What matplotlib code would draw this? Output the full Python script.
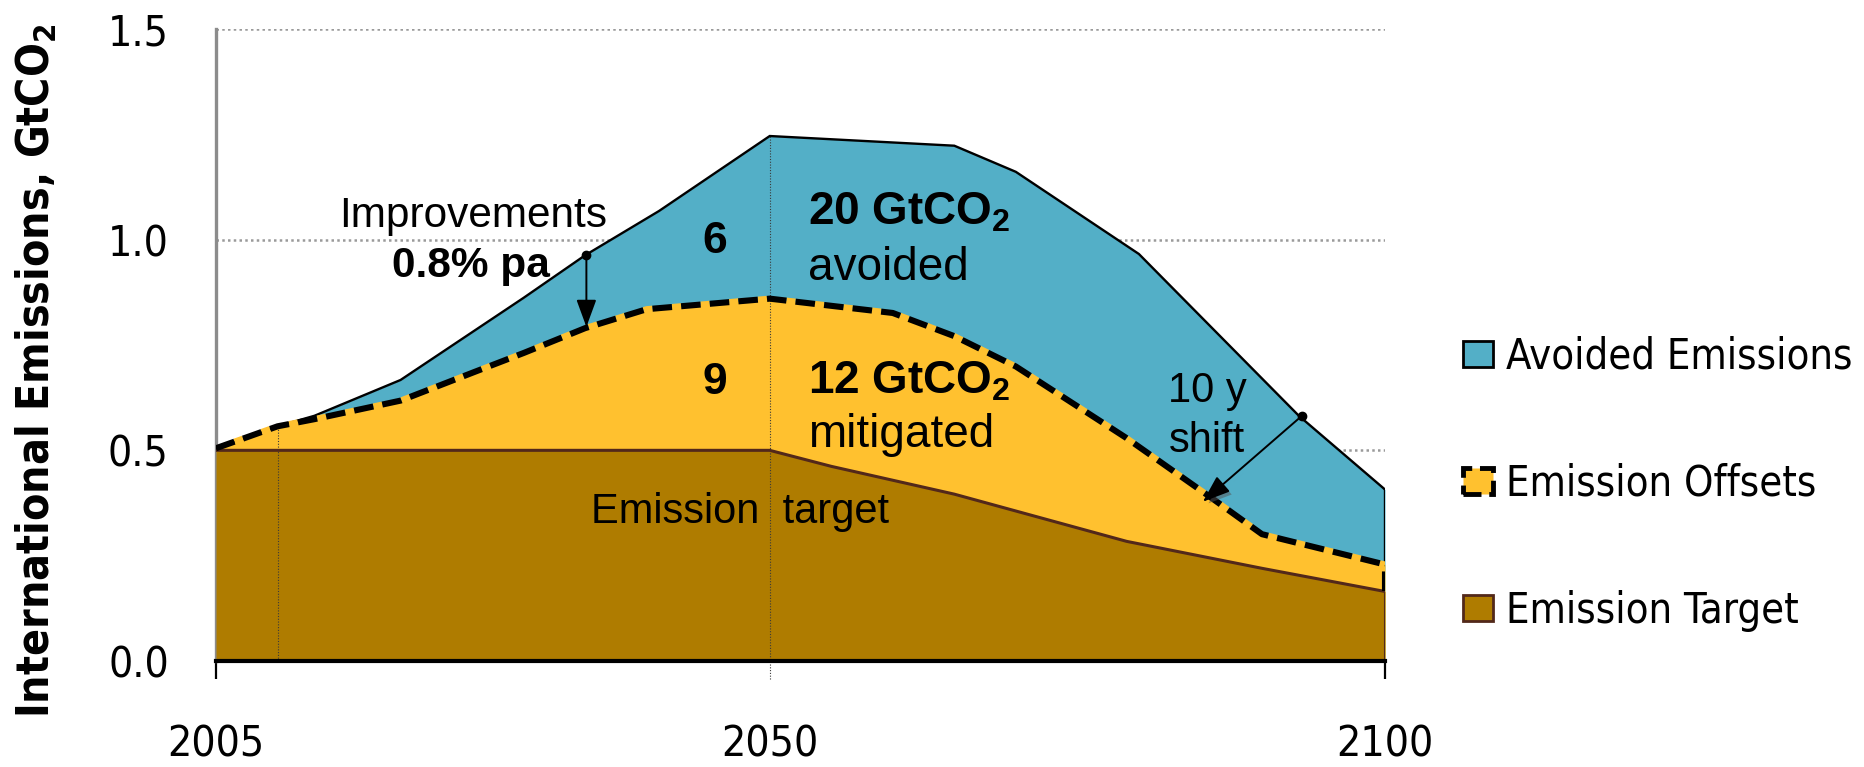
import os
import matplotlib
matplotlib.use("Agg")
import matplotlib.pyplot as plt
import matplotlib.patheffects as pe
from matplotlib import font_manager as fm
from matplotlib.font_manager import FontProperties
from matplotlib.patches import Patch

REGULAR = ["Liberation Sans", "DejaVu Sans"]
plt.rcParams["font.family"] = REGULAR

# ---- data -------------------------------------------------------------
# total emissions without efficiency improvements (top of the avoided band)
total_years = [2005, 2010, 2013, 2020, 2030, 2035, 2041, 2050, 2065, 2070, 2080, 2093, 2100]
total_vals = [0.505, 0.557, 0.582, 0.667, 0.862, 0.963, 1.068, 1.246, 1.223, 1.161, 0.966, 0.582, 0.407]

# emissions after improvements (top of the offsets band)
offset_years = [2005, 2010, 2013, 2020, 2026, 2030, 2035, 2040, 2050, 2060, 2065, 2070, 2079, 2086, 2090, 2100]
offset_vals = [0.505, 0.557, 0.574, 0.618, 0.686, 0.731, 0.790, 0.835, 0.860, 0.826, 0.771, 0.699, 0.529, 0.385, 0.301, 0.229]

# emission target
target_years = [2005, 2050, 2055, 2065, 2079, 2090, 2100]
target_vals = [0.50, 0.50, 0.462, 0.396, 0.284, 0.220, 0.165]

x_ticks = [2005, 2050, 2100]
x_tick_labels = ["2005", "2050", "2100"]
y_ticks = [0.0, 0.5, 1.0, 1.5]
y_tick_labels = ["0.0", "0.5", "1.0", "1.5"]

legend_labels = ["Avoided Emissions", "Emission Offsets", "Emission Target"]

improve_from = (2035.1, 0.963)
improve_to = (2035.1, 0.793)
shift_from = (2093.25, 0.582)
shift_to = (2085.2, 0.378)

# ---- fonts ------------------------------------------------------------
# Axis text uses a narrow sans face; pick the first one that is installed.
def _face(*stems):
    for stem in stems:
        for entry in fm.fontManager.ttflist:
            if os.path.splitext(os.path.basename(entry.fname))[0] == stem:
                return entry.fname
    return None

_narrow = [
    ("LiberationSansNarrow-Regular", "LiberationSansNarrow-Bold", 1.0),
    ("NotoSans-Condensed", "NotoSans-CondensedBold", 0.95),
    ("NotoSans-SemiCondensed", "NotoSans-SemiCondensedBold", 0.88),
    ("DejaVuSansCondensed", "DejaVuSansCondensed-Bold", 0.83),
]
NARROW_REG, NARROW_BOLD, NARROW_SCALE = None, None, 0.84
for reg_stem, bold_stem, scale in _narrow:
    reg_path, bold_path = _face(reg_stem), _face(bold_stem)
    if reg_path and bold_path:
        NARROW_REG, NARROW_BOLD, NARROW_SCALE = reg_path, bold_path, scale
        break


def axis_font(size, bold=False):
    path = NARROW_BOLD if bold else NARROW_REG
    if path:
        return FontProperties(fname=path, size=size * NARROW_SCALE)
    return FontProperties(family="Liberation Sans", weight="bold" if bold else "normal",
                          size=size * NARROW_SCALE)


# ---- styling ----------------------------------------------------------
BLUE = "#53AFC7"
YELLOW = "#FFC12F"
BROWN = "#AF7C00"
TARGET_LINE = "#52281A"
GRID = "#9A9A9A"

fig = plt.figure(figsize=(18.64, 7.67), dpi=100)
ax = fig.add_axes([216 / 1864, 1 - 661 / 767, (1385 - 216) / 1864, 632 / 767])
ax.set_xlim(2005, 2100)
ax.set_ylim(0, 1.5)

# gridlines behind the areas
ax.set_axisbelow(True)
ax.yaxis.grid(True, color=GRID, lw=1.8, ls=(0, (1, 1.3)))
ax.xaxis.grid(False)

# stacked bands, painted back to front
ax.fill_between(total_years, 0, total_vals, color=BLUE, lw=0, zorder=1)
ax.fill_between(offset_years, 0, offset_vals, color=YELLOW, lw=0, zorder=2)
ax.fill_between(target_years, 0, target_vals, color=BROWN, lw=0, zorder=3)

# category drop lines
ax.vlines(2010, 0, offset_vals[1], colors="#3a3a3a", lw=0.8, ls=(0, (1, 1.5)), zorder=4)
ax.vlines(2050, -0.043, total_vals[7], colors="#3a3a3a", lw=0.8, ls=(0, (1, 1.5)),
          zorder=4, clip_on=False)

# band outlines
ax.plot(target_years, target_vals, color=TARGET_LINE, lw=2.2, zorder=5)
ax.plot([2100, 2100], [0, target_vals[-1]], color=TARGET_LINE, lw=1.5, zorder=5)
ax.plot(total_years, total_vals, color="black", lw=1.7, zorder=6, solid_joinstyle="miter")
ax.plot([2100, 2100], [offset_vals[-1], total_vals[-1]], color="black", lw=1.7, zorder=6)
ax.plot(offset_years, offset_vals, color="black", lw=4.4, ls=(0, (3.2, 1.5)),
        gapcolor=YELLOW, zorder=7)
ax.plot([2100, 2100], [target_vals[-1], offset_vals[-1]], color="black", lw=4.4,
        ls=(0, (3.2, 1.5)), zorder=7)

# axes cosmetics
for side in ("top", "right"):
    ax.spines[side].set_visible(False)
ax.spines["left"].set_color("#8C8C8C")
ax.spines["left"].set_linewidth(2.4)
ax.spines["bottom"].set_color("black")
ax.spines["bottom"].set_linewidth(3.0)
ax.spines["bottom"].set_zorder(8)

ax.set_xticks(x_ticks)
ax.set_xticklabels(x_tick_labels, fontproperties=axis_font(37))
ax.tick_params(axis="x", length=13, width=1.6, color="black", pad=32)
ax.xaxis.get_major_ticks()[1].tick1line.set_visible(False)

ax.set_yticks(y_ticks)
ax.set_yticklabels(y_tick_labels, fontproperties=axis_font(37))
ax.tick_params(axis="y", length=0, pad=34)

fig.text(36 / 1864, 1 - 371 / 767, "International Emissions, GtCO$_\\mathregular{2}$",
         rotation=90, ha="center", va="center", fontproperties=axis_font(38.5, bold=True))

# annotations
ax.text(2025.9, 1.030, "Improvements", ha="center", va="baseline", fontsize=30.5, zorder=9)
ax.text(2025.7, 0.911, "0.8% pa", ha="center", va="baseline", fontsize=30.5,
        fontweight="bold", zorder=9)
ax.text(2045.5, 0.995, "6", ha="center", va="center", fontsize=32,
        fontweight="bold", zorder=9)
ax.text(2045.5, 0.662, "9", ha="center", va="center", fontsize=32,
        fontweight="bold", zorder=9)
ax.text(2053.1, 1.036, "20 GtCO$_\\mathregular{2}$", ha="left", va="baseline", fontsize=33,
        fontweight="bold", zorder=9)
ax.text(2053.1, 0.904, "avoided", ha="left", va="baseline", fontsize=33, zorder=9)
ax.text(2053.1, 0.636, "12 GtCO$_\\mathregular{2}$", ha="left", va="baseline", fontsize=33,
        fontweight="bold", zorder=9)
ax.text(2053.1, 0.507, "mitigated", ha="left", va="baseline", fontsize=33, zorder=9)
ax.text(2047.55, 0.327, "Emission  target", ha="center", va="baseline", fontsize=30, zorder=9)
ax.text(2085.55, 0.615, "10 y", ha="center", va="baseline", fontsize=30, zorder=9)
ax.text(2085.55, 0.497, "shift", ha="center", va="baseline", fontsize=30, zorder=9)

arrow_style = "-|>,head_length=0.6,head_width=0.22"
ax.annotate("", xy=improve_to, xytext=improve_from, zorder=10,
            arrowprops=dict(arrowstyle=arrow_style, color="black", lw=1.4,
                            mutation_scale=28, shrinkA=0, shrinkB=0))
ax.plot(*improve_from, "o", color="black", ms=6, zorder=10)

shift = ax.annotate("", xy=shift_to, xytext=shift_from, zorder=10,
                    arrowprops=dict(arrowstyle=arrow_style, color="black", lw=1.4,
                                    mutation_scale=28, shrinkA=0, shrinkB=0))
shift.arrow_patch.set_path_effects([
    pe.SimplePatchShadow(offset=(2.5, -2.5), shadow_rgbFace="#555555", alpha=0.5),
    pe.Normal(),
])
ax.plot(*shift_from, "o", color="black", ms=6, zorder=10)

# legend, laid out in pixels of the 100 dpi canvas
legend_fp = axis_font(36)
fs_px = legend_fp.get_size_in_points() * 100 / 72
handles = [
    Patch(facecolor=BLUE, edgecolor="black", lw=2.0),
    Patch(facecolor=YELLOW, edgecolor="black", lw=3.5, ls="--"),
    Patch(facecolor=BROWN, edgecolor=TARGET_LINE, lw=2.0),
]
legend_top = 352 - 0.39 * fs_px
fig.legend(handles, legend_labels, loc="upper left",
           bbox_to_anchor=(1463 / 1864, 1 - legend_top / 767), frameon=False,
           prop=legend_fp, handlelength=30 / fs_px, handleheight=25 / fs_px,
           handletextpad=13 / fs_px, labelspacing=122 / fs_px - 0.894,
           borderaxespad=0, borderpad=0)

fig.savefig("out.png", dpi=100)
